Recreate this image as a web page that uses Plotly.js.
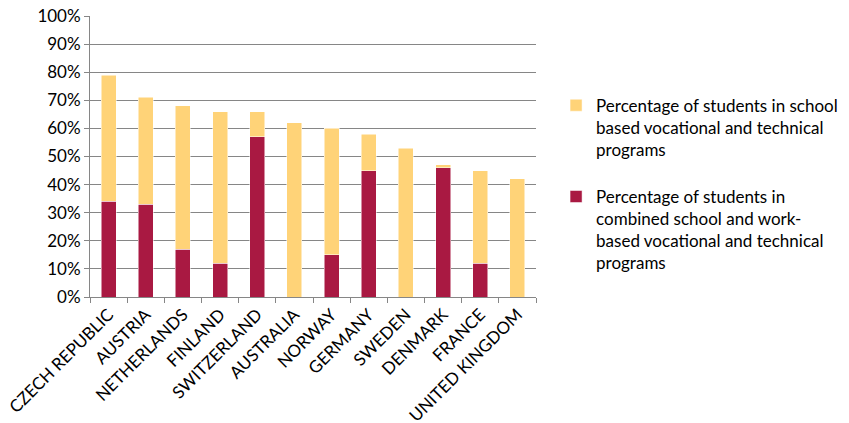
<!DOCTYPE html>
<html><head><meta charset="utf-8">
<script src="https://cdn.plot.ly/plotly-3.0.1.min.js"></script>
<style>body{margin:0;background:#fff}#c{width:849px;height:423px}</style>
</head><body><div id="c"></div>
<script>
const countries = ["CZECH REPUBLIC","AUSTRIA","NETHERLANDS","FINLAND","SWITZERLAND","AUSTRALIA","NORWAY","GERMANY","SWEDEN","DENMARK","FRANCE","UNITED KINGDOM"];
const combinedPct = [34,33,17,12,57,0,15,45,0,46,12,0];
const schoolPct = [45,38,51,54,9,62,45,13,53,1,33,42];
const schoolName = "Percentage of students in school<br>based vocational and technical<br>programs";
const combinedName = "Percentage of students in<br>combined school and work-<br>based vocational and technical<br>programs";

const font = "Lato, 'Open Sans', sans-serif";
const traces = [
  {type:'bar', x:countries, y:combinedPct, name:combinedName, legendgroup:'b', legendrank:2,
   marker:{color:'#A91942', line:{color:'#ffffff', width:0.5}}},
  {type:'bar', x:countries, y:schoolPct, name:schoolName, legendgroup:'a', legendrank:1,
   marker:{color:'#FFD378', line:{color:'#ffffff', width:0.5}}}
];
const layout = {
  width:849, height:423, barmode:'stack', bargap:0.6,
  margin:{l:90, r:313, t:16, b:126, autoexpand:false},
  paper_bgcolor:'#fff', plot_bgcolor:'#fff',
  font:{family:font, size:16, color:'#000'},
  showlegend:true,
  legend:{x:1.045, y:0.745, xanchor:'left', yanchor:'top', traceorder:'grouped', valign:'top',
          tracegroupgap:22, font:{family:font, size:17, color:'#000'}, itemwidth:30},
  xaxis:{type:'category', tickangle:-45, showline:true, linecolor:'#868686', linewidth:1,
         ticks:'outside', tickson:'boundaries', ticklen:5, tickcolor:'#868686',
         tickfont:{family:font, size:17}, showgrid:false, automargin:false},
  yaxis:{range:[0,100], dtick:10, ticksuffix:'%', showline:true, linecolor:'#868686', linewidth:1,
         ticks:'outside', ticklen:5, tickcolor:'#868686', gridcolor:'#868686', gridwidth:1,
         tickfont:{family:font, size:17}, zeroline:false, automargin:false}
};
Plotly.newPlot('c', traces, layout, {displayModeBar:false, staticPlot:true});
</script></body></html>
